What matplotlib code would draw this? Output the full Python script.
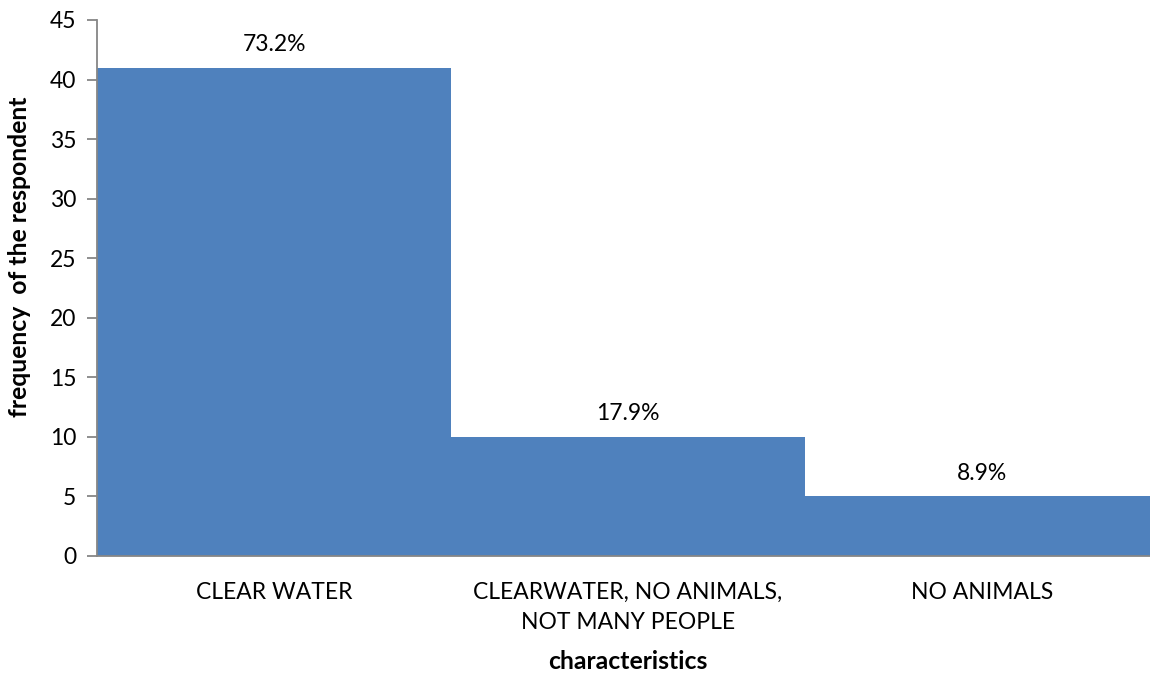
import matplotlib.pyplot as plt
import numpy as np

categories = ["CLEAR WATER", "CLEARWATER, NO ANIMALS,\nNOT MANY PEOPLE", "NO ANIMALS"]
frequency = [41, 10, 5]
percent_labels = ["73.2%", "17.9%", "8.9%"]
y_ticks = [0, 5, 10, 15, 20, 25, 30, 35, 40, 45]

plt.rcParams['font.family'] = ['Lato', 'DejaVu Sans']

fig = plt.figure(figsize=(11.5, 6.75), dpi=100)
# axes run a little past the right edge so the last bar is cut off
ax = fig.add_axes([97 / 1150, 119 / 675, 1062 / 1150, 536 / 675])

x = np.arange(len(categories))
bars = ax.bar(x, frequency, width=1.0, color='#4F81BD', edgecolor='none')

for bar, lab in zip(bars, percent_labels):
    ax.annotate(lab, (bar.get_x() + bar.get_width() / 2, bar.get_height()),
                xytext=(0, 9), textcoords='offset points',
                ha='center', va='bottom', fontsize=16.5, color='#000000')

ax.set_xlim(-0.5, 2.5)
ax.set_ylim(0, 45)
ax.set_yticks(y_ticks)
ax.set_xticks(x)
ax.set_xticklabels(categories, fontsize=16.5, linespacing=1.55)
ax.tick_params(axis='y', labelsize=16.5, length=7, width=1.3, color='#868686', pad=8)
ax.tick_params(axis='x', length=0, pad=18.5)

for side in ['top', 'right']:
    ax.spines[side].set_visible(False)
for side in ['left', 'bottom']:
    ax.spines[side].set_color('#868686')
    ax.spines[side].set_linewidth(1.3)

ax.set_ylabel("frequency  of the respondent", fontsize=17.8, fontweight='bold')
ax.yaxis.set_label_coords(-0.062, 0.558)
ax.set_xlabel("characteristics", fontsize=17.8, fontweight='bold', labelpad=12)

fig.savefig("out.png", dpi=100)
